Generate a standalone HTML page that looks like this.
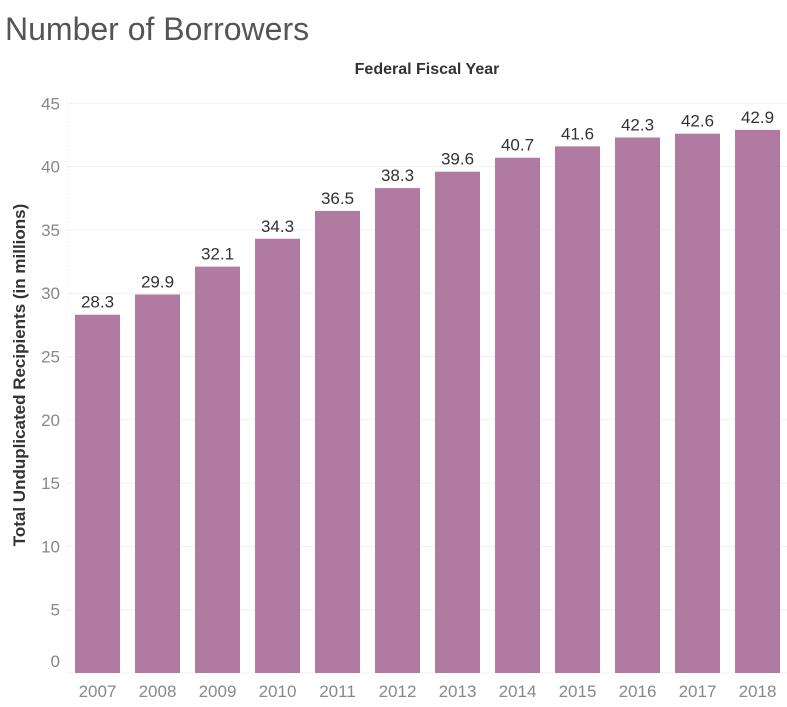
<!DOCTYPE html>
<html><head><meta charset="utf-8"><style>
body{margin:0;background:#fff;width:787px;height:702px;overflow:hidden;font-family:"Liberation Sans",sans-serif}
</style></head><body>
<svg width="787" height="702">
<text x="5" y="40" font-size="32" fill="#555" font-weight="300">Number of Borrowers</text>
<text x="427" y="74" font-size="16" font-weight="bold" fill="#333" text-anchor="middle">Federal Fiscal Year</text>
<text transform="translate(25,375) rotate(-90)" font-size="17" font-weight="bold" fill="#333" text-anchor="middle">Total Unduplicated Recipients (in millions)</text>
<g id="grid"></g><g id="bars"></g><g id="labels"></g>
</svg>
<script>
const years=["2007","2008","2009","2010","2011","2012","2013","2014","2015","2016","2017","2018"];
const values=[28.3,29.9,32.1,34.3,36.5,38.3,39.6,40.7,41.6,42.3,42.6,42.9];
const ticks=[0,5,10,15,20,25,30,35,40,45];
const NS="http://www.w3.org/2000/svg";
const y0=673,ppu=12.66;
const y=v=>y0-v*ppu;
const x=i=>75+i*60;
const grid=document.getElementById('grid'),bars=document.getElementById('bars'),labels=document.getElementById('labels');
function mk(tag,attrs,parent,txt){const e=document.createElementNS(NS,tag);for(const k in attrs)e.setAttribute(k,attrs[k]);if(txt!==undefined)e.textContent=txt;parent.appendChild(e);return e;}
const vl=mk('line',{x1:67,x2:67,y1:95,y2:678,stroke:'#eee','stroke-dasharray':'1,2'},grid);


ticks.forEach(t=>{
 const l=mk('line',{x1:67,x2:787,y1:y(t),y2:y(t),stroke:'#f0f0f0'},grid);
 
 
 const ty=t===0?y(t)-6:y(t)+6;
 const tx=mk('text',{x:60,y:ty,'font-size':17,fill:'#888','text-anchor':'end'},grid,String(t));
 
 
});
years.forEach((yr,i)=>{
 const v=values[i];
 const r=mk('rect',{x:x(i),y:y(v),width:45,height:y0-y(v),fill:'#b07aa1'},bars);
 
 
 const vt=mk('text',{x:x(i)+22.5,y:y(v)-7,'font-size':17,fill:'#333','text-anchor':'middle'},labels,v.toFixed(1));
 
 
 const xt=mk('text',{x:x(i)+22.5,y:697,'font-size':17,fill:'#888','text-anchor':'middle'},labels,yr);
 
 
});
</script>
</body></html>
